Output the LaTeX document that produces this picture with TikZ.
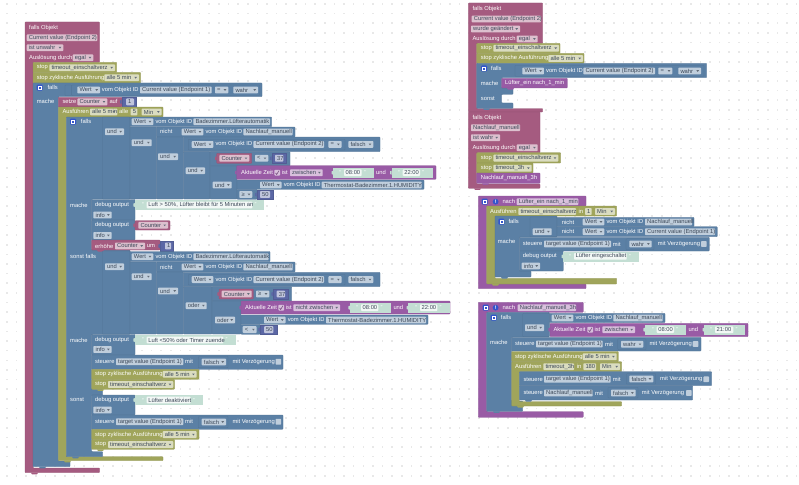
\documentclass[tikz,border=0pt]{standalone}
\usepackage{fontspec}
\setmainfont{Liberation Sans}
\definecolor{pk}{HTML}{A55B80}
\definecolor{ol}{HTML}{A0A55B}
\definecolor{bl}{HTML}{5B80A5}
\definecolor{pu}{HTML}{995BA5}
\definecolor{nb}{HTML}{5B67A5}
\definecolor{gr}{HTML}{C3DED3}
\definecolor{ftxt}{HTML}{3C4858}
\definecolor{icn}{HTML}{3355CC}
\newcount\nn
\newcommand{\nx}{\global\advance\nn by 1 }
\tikzset{
 lbl/.style={text=white,font=\fontsize{5.8}{6}\selectfont,inner sep=0pt,anchor=west},
 ftx/.style={text=ftxt,font=\fontsize{5.8}{6}\selectfont,inner sep=0pt,anchor=west},
 pkb/.style={fill=pk,draw=pk!90!black,line width=.3pt,rounded corners=.7pt},
 olb/.style={fill=ol,draw=ol!90!black,line width=.3pt,rounded corners=.7pt},
 blb/.style={fill=bl,draw=bl!90!black,line width=.3pt,rounded corners=.7pt},
 pub/.style={fill=pu,draw=pu!90!black,line width=.3pt,rounded corners=.7pt},
 nbb/.style={fill=nb,draw=nb!90!black,line width=.3pt},
 grb/.style={fill=gr,draw=gr,line width=.3pt},
 fld/.style={fill=white,fill opacity=.62,rounded corners=.8pt},
}
% block rectangle: style, x1,y1,x2,y2
\newcommand{\Bk}[5]{\draw[#1] (#2,#3) rectangle (#4,#5);}
% white label
\newcommand{\Tx}[3]{\nx\node[lbl] (t\the\nn) at (#1,#2) {#3};}
% plain field
\newcommand{\Fd}[4]{\nx\fill[fld] (#1,#3-3.4) rectangle (#2,#3+3.4);\node[ftx] (t\the\nn) at (#1+2,#3) {#4};}
% dropdown field
\newcommand{\Dd}[4]{\Fd{#1}{#2}{#3}{#4}\fill[ftxt!80] (#2-4.6,#3-.8) -- (#2-2,#3-.8) -- (#2-3.3,#3+.9) -- cycle;}
% small notch below a statement block
\newcommand{\Nt}[3]{\fill[#3] (#1+3,#2) -- (#1+10,#2) -- (#1+9,#2+1.6) -- (#1+4,#2+1.6) -- cycle;}
% value tab on the left
\newcommand{\Tb}[4]{\fill[#4] (#1,#2-2) -- (#1-1.6,#2-1.4) -- (#1-1.6,#2+1.4) -- (#1,#2+2) -- cycle;}
% mutator icon
\newcommand{\Ic}[2]{\fill[icn,rounded corners=1pt] (#1,#2-3) rectangle (#1+6,#2+3);\draw[white,line width=.45pt] (#1+1.5,#2-1.3) rectangle (#1+4.5,#2+1.3);}
% warning circle
\newcommand{\Ex}[2]{\nx\fill[icn] (#1+2.9,#2) circle (2.9);\node[text=white,font=\fontsize{5}{5}\selectfont\bfseries,inner sep=0pt] (t\the\nn) at (#1+2.9,#2) {!};}
% checkbox
\newcommand{\Cb}[2]{\fill[white,fill opacity=.62,rounded corners=.8pt] (#1,#2-2.9) rectangle (#1+5.7,#2+2.9);}
\newcommand{\Ck}[2]{\Cb{#1}{#2}\draw[pu!70!black,line width=.5pt] (#1+1.2,#2+.2) -- (#1+2.4,#2+1.8) -- (#1+4.6,#2-2);}
% number block: x1,x2,y,ix1,ix2,text
\newcommand{\Nm}[6]{\Bk{nbb}{#1}{#3-4.8}{#2}{#3+4.8}\Tb{#1}{#3}{#1}{nb}\Fd{#4}{#5}{#3}{#6}}
% text block: x1,x2,y,ix1,ix2,text
\newcommand{\Gt}[6]{\nx\Bk{grb}{#1}{#3-4.4}{#2}{#3+4.4}\Tb{#1}{#3}{#1}{gr}\fill[white,fill opacity=.8,rounded corners=.8pt] (#4,#3-3.3) rectangle (#5,#3+3.3);\node[ftx] (t\the\nn) at (#4+1.5,#3) {#6};\Tx{#4-5}{#3}{“}\Tx{#5+2}{#3}{”}}
% Wert vom Objekt ID: x,y,f1,f2,text
\newcommand{\Wt}[5]{\Dd{#1}{#1+21.6}{#2}{Wert}\Tx{#1+23.6}{#2}{vom Objekt ID}\Fd{#3}{#4}{#2}{#5}}
\begin{document}
\begin{tikzpicture}[x=1pt,y=-1pt]
\useasboundingbox (0,0) rectangle (799,484);
\fill[white] (0,0) rectangle (799,484);
\foreach \i in {0,...,82}{\foreach \j in {0,...,50}{\fill[black!9] (\i*9.63+6.2,\j*9.63+3.2) rectangle +(1.6,1.6);}}
%%% ---------- left program ----------
\draw[pkb] (25,22)--(99.5,22)--(99.5,62.3)--(33,62.3)--(33,468)--(99.5,468)--(99.5,472.7)--(25,472.7)--cycle;
\Nt{28}{472.7}{pk}
\Tx{29}{27.7}{falls Objekt}
\Fd{26.7}{97.3}{37.7}{Current value (Endpoint 2)}
\Dd{26.7}{63.3}{47.7}{ist unwahr}
\Tx{29}{57.7}{Auslösung durch}
\Dd{72.7}{93.3}{57.7}{egal}
\Bk{olb}{33}{62.3}{116.7}{72.5}
\Tx{36.7}{67.7}{stop}\Dd{49.3}{115}{67.7}{timeout\_einschaltverz}
\Bk{olb}{33}{72.5}{140.7}{83}
\Tx{36.7}{77.7}{stop zyklische Ausführung}\Dd{104.3}{139}{77.7}{alle 5 min}
% outer falls
\draw[blb] (33,83)--(262,83)--(262,96.7)--(58.3,96.7)--(58.3,461)--(70,461)--(70,466.7)--(33,466.7)--cycle;
\Nt{36}{466.7}{bl}
\Ic{36.7}{87.7}\Tx{47.3}{87.7}{falls}
\Bk{blb}{65}{85}{71.7}{95.5}
\Bk{blb}{71.7}{85}{259.5}{95.5}
\Dd{77.3}{100}{90}{Wert}\Tx{101.7}{90}{vom Objekt ID}\Fd{140}{211.7}{90}{Current value (Endpoint 1)}
\Dd{215}{228.3}{90}{=}\Dd{233.3}{258}{90}{wahr}
\Tx{36.7}{101.7}{mache}
\Bk{pkb}{58.3}{97.3}{122}{106.8}
\Tx{62.3}{101.9}{setze}\Dd{77.3}{107.3}{101.9}{Counter}\Tx{109.3}{101.9}{auf}
\Nm{121.7}{135.7}{101.9}{126}{134}{1}
% Ausfuehren alle
\draw[olb] (58.3,107)--(163,107)--(163,117)--(66.3,117)--(66.3,456.7)--(163,456.7)--(163,460.7)--(58.3,460.7)--cycle;
\Nt{61}{460.7}{ol}
\Tx{62.3}{111.9}{Ausführen}\Dd{90}{117.3}{111.9}{alle 5 min}\Tx{119}{111.9}{alle}\Fd{130.7}{137.3}{111.9}{5}\Dd{141.7}{161.7}{111.9}{Min}
% inner falls column
\draw[blb] (66.3,117)--(130,117)--(130,199)--(91.7,199)--(91.7,250)--(130,250)--(130,334.3)--(91.7,334.3)--(91.7,389.3)--(102.7,389.3)--(102.7,395)--(91.7,395)--(91.7,451.7)--(102.7,451.7)--(102.7,456.7)--(66.3,456.7)--cycle;
\Nt{69}{456.7}{bl}
\Ic{70}{121.7}\Tx{80.7}{121.7}{falls}
% condition 1
\Bk{blb}{102.3}{117}{130}{199}
\Dd{105}{124}{131.7}{und}
\Bk{blb}{130}{117}{271.7}{126.7}
\Wt{131.7}{121.7}{193.3}{270}{Badezimmer.Lüfterautomatik}
\Bk{blb}{130}{127}{156.7}{199}
\Dd{131.7}{151.7}{142.7}{und}
\Bk{blb}{156.7}{127}{295}{137}
\Tx{160}{131.9}{nicht}
\Wt{181.7}{131.9}{243.3}{292.7}{Nachlauf\_manuell}
\Bk{blb}{156.7}{137}{183.3}{199}
\Dd{158}{178}{156.7}{und}
\Bk{blb}{183.3}{137}{380}{151.7}
\Bk{blb}{188.5}{139.2}{345}{150}
\Wt{191.7}{144.4}{253.3}{324}{Current value (Endpoint 2)}
\Dd{328.3}{341.7}{144.4}{=}\Dd{348.3}{373.3}{144.4}{falsch}
\Bk{blb}{183.3}{151.7}{210}{199}
\Dd{185.7}{205}{170.7}{und}
\Bk{blb}{210}{151.7}{290}{166}
\Bk{blb}{210}{166}{237}{199}
\Dd{212.7}{231.7}{185}{und}
\Bk{pkb}{216.7}{153.3}{251.7}{163.3}\Tb{216.7}{158.3}{0}{pk}
\Dd{219.3}{249.3}{158.3}{Counter}
\Dd{255}{268.3}{158.3}{<}
\Nm{271.7}{285.7}{158.3}{275}{283.3}{37}
\Bk{pub}{236.7}{165.7}{436}{179.3}\Tb{236.7}{172.5}{0}{pu}
\Tx{241}{172.7}{Aktuelle Zeit}\Ck{274.3}{172.7}\Tx{281.7}{172.7}{ist}\Dd{290}{322.7}{172.7}{zwischen}
\Gt{333.3}{372.7}{172.7}{344}{361.7}{08:00}
\Tx{376}{172.7}{und}
\Gt{391.7}{431.7}{172.7}{402.7}{420}{22:00}
\Bk{blb}{237}{180}{424}{189.3}
\Wt{260}{185}{321.7}{421.7}{Thermostat-Badezimmer.1.HUMIDITY}
\Bk{blb}{237}{189.3}{257}{199.3}
\Dd{239.3}{252.3}{194.5}{≥}
\Nm{256.7}{272.7}{194.5}{260}{270}{50}
% mache statements
\Tx{70}{205}{mache}
\Bk{blb}{91.7}{199.5}{135}{220}
\Tx{95}{205}{debug output}\Dd{93.3}{111.7}{215}{info}
\Gt{135}{263}{205}{146.7}{252.3}{Luft > 50\%, Lüfter bleibt für 5 Minuten an}
\Bk{blb}{91.7}{220}{135}{240}
\Tx{95}{225}{debug output}\Dd{93.3}{111.7}{235.5}{info}
\Bk{pkb}{135}{220.7}{170}{230}\Tb{135}{225.3}{0}{pk}
\Dd{138.3}{168}{225.3}{Counter}
\Bk{pkb}{91.7}{240}{160}{250}\Nt{94}{250}{pk}
\Tx{95}{246}{erhöhe}\Dd{115}{145}{246}{Counter}\Tx{146.7}{246}{um}
\Nm{160}{172.7}{246}{165}{171}{1}
% sonst falls
\Tx{70}{256.7}{sonst falls}
\Bk{blb}{102.3}{251}{130}{334}
\Dd{105}{124}{266.7}{und}
\Bk{blb}{130}{251.5}{270}{261.7}
\Wt{131.7}{256.7}{193.3}{268.5}{Badezimmer.Lüfterautomatik}
\Bk{blb}{130}{262}{156.7}{334}
\Dd{131.7}{151.7}{276.7}{und}
\Bk{blb}{156.7}{262}{295}{272}
\Tx{160}{267}{nicht}
\Wt{181.7}{267}{243.3}{292.7}{Nachlauf\_manuell}
\Bk{blb}{156.7}{272}{183.3}{334}
\Dd{158}{178}{291}{und}
\Bk{blb}{183.3}{272.3}{380}{286.7}
\Bk{blb}{188.5}{274.4}{345}{285}
\Wt{191.7}{279.6}{253.3}{324}{Current value (Endpoint 2)}
\Dd{328.3}{341.7}{279.6}{=}\Dd{348.3}{373.3}{279.6}{falsch}
\Bk{blb}{183.3}{286.7}{212}{334}
\Dd{185.7}{206.7}{305.7}{oder}
\Bk{blb}{212}{286.7}{291.7}{301}
\Bk{blb}{212}{301}{241}{334}
\Dd{215}{235}{320}{oder}
\Bk{pkb}{219}{289}{253.3}{299}\Tb{219}{294}{0}{pk}
\Dd{221.7}{251.7}{294}{Counter}
\Dd{256}{269.3}{294}{≥}
\Nm{273}{288}{294}{276.7}{285}{37}
\Bk{pub}{241}{301}{450}{314}\Tb{241}{307.7}{0}{pu}
\Tx{245}{307.7}{Aktuelle Zeit}\Ck{278.3}{307.7}\Tx{285.7}{307.7}{ist}\Dd{293.3}{340}{307.7}{nicht zwischen}
\Gt{350}{390}{307.7}{361}{378.3}{08:00}
\Tx{393.3}{307.7}{und}
\Gt{408.3}{449.3}{307.7}{420}{437.3}{22:00}
\Bk{blb}{241}{315}{428}{324.3}
\Wt{264}{320}{326}{426}{Thermostat-Badezimmer.1.HUMIDITY}
\Bk{blb}{241}{324.5}{260}{334.3}
\Dd{242.7}{256.7}{329.6}{<}
\Nm{260}{276.7}{329.6}{264}{273.3}{50}
% mache 2
\Tx{70}{340}{mache}
\Bk{blb}{91.7}{334.5}{135}{355}
\Tx{95}{340}{debug output}\Dd{93.3}{111.7}{349.5}{info}
\Gt{135}{235}{340}{146.7}{223.3}{Luft <50\% oder Timer zuende}
\Bk{blb}{91.7}{355}{283}{369.3}
\Tx{95}{361.7}{steuere}\Fd{116}{183.3}{361.7}{target value (Endpoint 1)}\Tx{185}{361.7}{mit}
\Bk{blb}{198.3}{356.5}{228}{367.8}\Dd{201.7}{226}{362}{falsch}
\Tx{232.3}{361.7}{mit Verzögerung}\Cb{275.5}{361.7}
\Bk{olb}{91.7}{369.3}{199}{379.3}
\Tx{95}{374.3}{stop zyklische Ausführung}\Dd{162.7}{196.7}{374.3}{alle 5 min}
\Bk{olb}{91.7}{379.3}{174.5}{389.3}\Nt{94}{389.3}{ol}
\Tx{95}{384.5}{stop}\Dd{108}{173.3}{384.5}{timeout\_einschaltverz}
% sonst
\Tx{70}{400}{sonst}
\Bk{blb}{91.7}{395}{135}{415}
\Tx{95}{400}{debug output}\Dd{93.3}{111.7}{410}{info}
\Gt{135}{202}{400}{146.7}{190.7}{Lüfter deaktiviert}
\Bk{blb}{91.7}{415}{283}{429.3}
\Tx{95}{421.7}{steuere}\Fd{116}{183.3}{421.7}{target value (Endpoint 1)}\Tx{185}{421.7}{mit}
\Bk{blb}{198.3}{416.5}{228}{427.8}\Dd{201.7}{226}{422}{falsch}
\Tx{232.3}{421.7}{mit Verzögerung}\Cb{275.5}{421.7}
\Bk{olb}{91.7}{429.3}{199}{439.3}
\Tx{95}{434.6}{stop zyklische Ausführung}\Dd{162.7}{196.7}{434.6}{alle 5 min}
\Bk{olb}{91.7}{439.3}{174.5}{449.3}\Nt{94}{449.3}{ol}
\Tx{95}{444.6}{stop}\Dd{108}{173.3}{444.6}{timeout\_einschaltverz}
%%% ---------- right: trigger 2 ----------
\draw[pkb] (468.3,3)--(542.7,3)--(542.7,43.3)--(476.7,43.3)--(476.7,108.5)--(542.7,108.5)--(542.7,112)--(468.3,112)--cycle;
\Tx{472.3}{8.7}{falls Objekt}
\Fd{471.7}{541}{19}{Current value (Endpoint 2)}
\Dd{471}{520}{29}{wurde geändert}
\Tx{472.3}{39}{Auslösung durch}\Dd{516.7}{537.7}{39}{egal}
\Bk{olb}{476.7}{43.3}{560}{53.3}
\Tx{480.7}{48.3}{stop}\Dd{493.3}{559}{48.3}{timeout\_einschaltverz}
\Bk{olb}{476.7}{53.3}{584}{63.3}
\Tx{480.7}{58.5}{stop zyklische Ausführung}\Dd{548.3}{583}{58.5}{alle 5 min}
\draw[blb] (476.7,63.3)--(706.7,63.3)--(706.7,77.7)--(501.7,77.7)--(501.7,88)--(513,88)--(513,94.3)--(501.7,94.3)--(501.7,103)--(513,103)--(513,108.3)--(476.7,108.3)--cycle;
\Nt{480}{108.3}{bl}
\Ic{481}{68.5}\Tx{491}{68.5}{falls}
\Bk{blb}{515}{65.5}{704}{76.3}
\Wt{522.3}{71}{583.3}{655}{Current value (Endpoint 2)}
\Dd{658.3}{672.3}{71}{=}\Dd{678.3}{701}{71}{wahr}
\Tx{480.7}{83.3}{mache}
\Bk{pub}{501.7}{78.3}{567.3}{88}\Nt{504}{88}{pu}
\Tx{505}{83}{Lüfter\_ein nach\_1\_min}
\Tx{480.7}{99}{sonst}
%%% ---------- right: trigger 3 ----------
\draw[pkb] (468.3,112)--(540,112)--(540,152.7)--(476.7,152.7)--(476.7,184)--(540,184)--(540,188.3)--(468.3,188.3)--cycle;
\Nt{471}{188.3}{pk}
\Tx{472.3}{117.7}{falls Objekt}
\Fd{471}{520}{127.7}{Nachlauf\_manuell}
\Dd{471}{500}{137.7}{ist wahr}
\Tx{472.3}{147.7}{Auslösung durch}\Dd{516.7}{537.7}{147.7}{egal}
\Bk{olb}{476.7}{152.7}{560.7}{163}
\Tx{480.7}{158.1}{stop}\Dd{493.3}{558.3}{158.1}{timeout\_einschaltverz}
\Bk{olb}{476.7}{163}{533}{173}
\Tx{480.7}{168.2}{stop}\Dd{493.3}{531.7}{168.2}{timeout\_3h}
\Bk{pub}{476.7}{173}{540}{183.3}\Nt{479}{183.3}{pu}
\Tx{480.7}{178.2}{Nachlauf\_manuell\_3h}
%%% ---------- right: nach 1 ----------
\draw[pub] (478.3,196)--(586,196)--(586,206)--(486.7,206)--(486.7,284)--(586,284)--(586,288.7)--(478.3,288.7)--cycle;
\Ic{481.7}{201.7}\Ex{492.7}{201.7}\Tx{502.3}{201.7}{nach}\Fd{516.7}{578.3}{201.7}{Lüfter\_ein nach\_1\_min}
\draw[olb] (486.7,206)--(616.7,206)--(616.7,216)--(495,216)--(495,278.3)--(616.7,278.3)--(616.7,284)--(486.7,284)--cycle;
\Nt{489}{284}{ol}
\Tx{490}{211.5}{Ausführen}\Fd{518.3}{576}{211.5}{timeout\_einschaltverz}\Tx{578.3}{211.5}{in}\Fd{585}{591.7}{211.5}{1}\Dd{595}{615}{211.5}{Min}
\draw[blb] (495,216)--(557,216)--(557,237)--(519.3,237)--(519.3,271)--(531,271)--(531,277)--(495,277)--cycle;
\Nt{498}{277}{bl}
\Ic{498.3}{221.7}\Tx{508.3}{221.7}{falls}
\Bk{blb}{530}{217}{557}{236.7}
\Dd{532.7}{551.7}{231.7}{und}
\Bk{blb}{557}{217.3}{694}{226.5}
\Tx{561.7}{222}{nicht}
\Wt{582.7}{222}{645}{692}{Nachlauf\_manuell}
\Bk{blb}{557}{226.7}{717.3}{236.7}
\Tx{561.7}{231.8}{nicht}
\Wt{582.7}{231.8}{645}{715}{Current value (Endpoint 1)}
\Tx{497.7}{241.7}{mache}
\Bk{blb}{519.3}{237.3}{709.3}{251}
\Tx{522.7}{244}{steuere}\Fd{544}{611}{244}{target value (Endpoint 1)}\Tx{612.7}{244}{mit}
\Bk{blb}{626}{238.8}{654}{249.5}\Dd{629.3}{651.7}{244}{wahr}
\Tx{657.7}{244}{mit Verzögerung}\Cb{701}{244}
\Bk{blb}{519.3}{251}{563.3}{271}
\Tx{522.7}{256}{debug output}\Dd{521.7}{540}{266}{info}
\Gt{563.3}{638.3}{256.4}{574}{626.7}{Lüfter eingeschaltet}
%%% ---------- right: nach 3h ----------
\draw[pub] (478.3,302.3)--(583.3,302.3)--(583.3,312.3)--(486.7,312.3)--(486.7,411.7)--(583.3,411.7)--(583.3,417.3)--(478.3,417.3)--cycle;
\Ic{482.7}{307.7}\Ex{492.7}{307.7}\Tx{502.3}{307.7}{nach}\Fd{517.7}{576}{307.7}{Nachlauf\_manuell\_3h}
\draw[blb] (486.7,312.3)--(549.3,312.3)--(549.3,337)--(511.7,337)--(511.7,401)--(522.7,401)--(522.7,411.3)--(486.7,411.3)--cycle;
\Nt{490}{411.3}{bl}
\Ic{490.7}{317.7}\Tx{500.7}{317.7}{falls}
\Bk{blb}{522.7}{313.3}{549.3}{336.7}
\Dd{525}{544}{327.7}{und}
\Bk{blb}{549.3}{313.3}{665}{322.5}
\Wt{551.7}{318}{613.3}{662.7}{Nachlauf\_manuell}
\Bk{pub}{550}{323.3}{748}{336.7}\Tb{550}{329.7}{0}{pu}
\Tx{553.3}{329.7}{Aktuelle Zeit}\Ck{587.3}{329.7}\Tx{594.3}{329.7}{ist}\Dd{602.3}{635}{329.7}{zwischen}
\Gt{645}{685}{329.7}{656.7}{674}{08:00}
\Tx{688.3}{329.7}{und}
\Gt{704.3}{744}{329.7}{715}{733.3}{21:00}
\Tx{490}{342.3}{mache}
\Bk{blb}{511.7}{337.3}{701}{351}
\Tx{515}{344}{steuere}\Fd{536}{602.7}{344}{target value (Endpoint 1)}\Tx{605}{344}{mit}
\Bk{blb}{617.7}{338.8}{646}{349.5}\Dd{621}{643.3}{344.3}{wahr}
\Tx{649.3}{344}{mit Verzögerung}\Cb{692.7}{344}
\Bk{olb}{511.7}{351.5}{618.3}{361.7}
\Tx{515}{356.7}{stop zyklische Ausführung}\Dd{582.7}{616.7}{356.7}{alle 5 min}
\draw[olb] (511.7,361.7)--(621.7,361.7)--(621.7,371.7)--(519.3,371.7)--(519.3,401.7)--(621.7,401.7)--(621.7,406)--(511.7,406)--cycle;
\Nt{514}{406}{ol}
\Tx{515}{366.7}{Ausführen}\Fd{543.3}{574}{366.7}{timeout\_3h}\Tx{576.7}{366.7}{in}\Fd{583.3}{596}{366.7}{180}\Dd{600}{620}{366.7}{Min}
\Bk{blb}{519.3}{371.7}{711.7}{385.7}
\Tx{523.3}{379.3}{steuere}\Fd{544}{610.7}{379.3}{target value (Endpoint 1)}\Tx{612.7}{379.3}{mit}
\Bk{blb}{626.5}{373.5}{655.5}{384}\Dd{629.3}{653.3}{379}{falsch}
\Tx{660}{379.3}{mit Verzögerung}\Cb{703.3}{379.3}
\Bk{blb}{519.3}{385.7}{692.7}{400}\Nt{522}{400}{bl}
\Tx{523.3}{393}{steuere}\Fd{544}{592.7}{393}{Nachlauf\_manuell}\Tx{595}{393}{mit}
\Bk{blb}{608}{387.5}{638}{398}\Dd{611}{635.7}{393}{falsch}
\Tx{641.7}{393}{mit Verzögerung}\Cb{686}{393}
\end{tikzpicture}
\end{document}
